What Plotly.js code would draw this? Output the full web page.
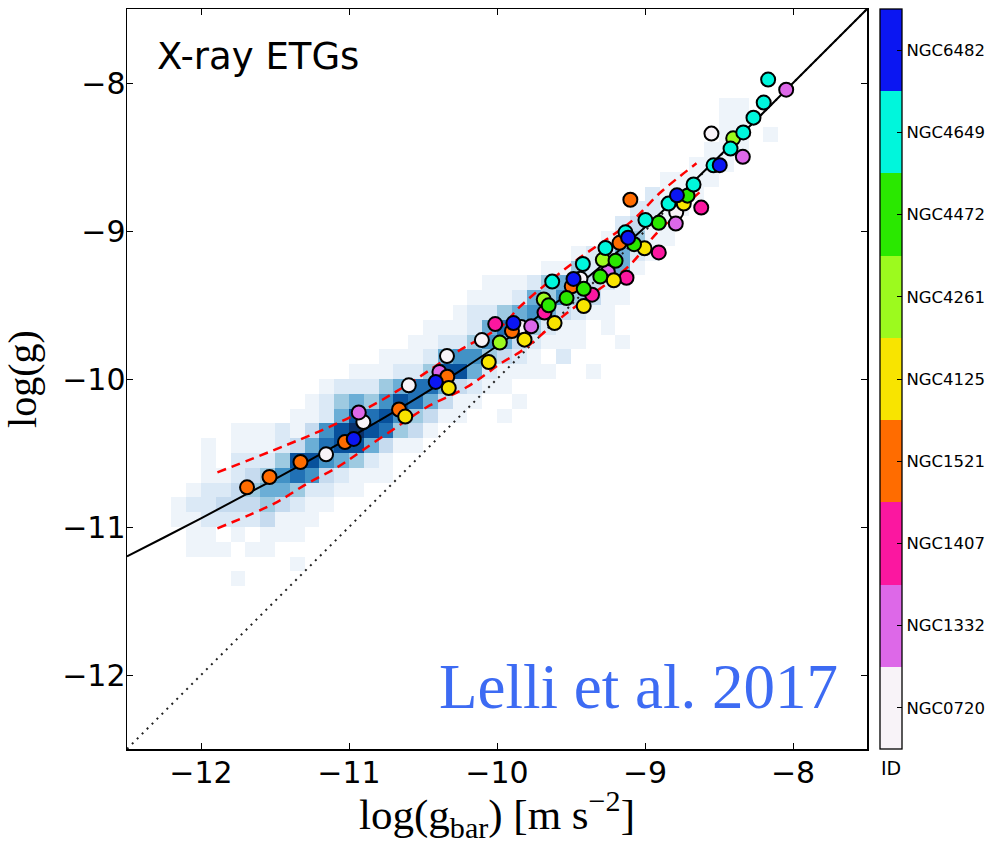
<!DOCTYPE html>
<html>
<head>
<meta charset="utf-8">
<script src="https://cdn.plot.ly/plotly-3.0.1.min.js"></script>
<style>html,body{margin:0;padding:0;background:#fff;}#chart{width:992px;height:845px;}</style>
</head>
<body>
<div id="chart"></div>
<script>
// ---- Galaxy IDs (colour bar categories, bottom to top) ----
const galaxyNames = ['NGC0720','NGC1332','NGC1407','NGC1521','NGC4125','NGC4261','NGC4472','NGC4649','NGC6482'];
const galaxyColors = ['#f8f3f8','#dd68e8','#fb17a0','#ff6c00','#f8e400','#9cfa1e','#2ae800','#00f6dc','#0b16f2'];

// ---- X-ray ETG points: log(gbar), log(g) per galaxy ----
const gbarNGC0720 = [-11.155,-10.903,-10.596,-10.338,-10.102,-9.836,-9.436,-8.789,-8.551];
const gobsNGC0720 = [-10.509,-10.291,-10.043,-9.845,-9.737,-9.649,-9.323,-8.874,-8.342];
const gbarNGC1332 = [-10.934,-10.389,-9.769,-9.251,-8.792,-8.339,-8.046];
const gobsNGC1332 = [-10.226,-9.953,-9.644,-9.277,-8.950,-8.499,-8.045];
const gbarNGC1407 = [-10.012,-9.679,-9.358,-9.125,-8.907,-8.620];
const gobsNGC1407 = [-9.629,-9.551,-9.430,-9.316,-9.145,-8.842];
const gbarNGC1521 = [-11.689,-11.537,-11.328,-11.027,-10.662,-10.336,-9.899,-9.495,-9.172,-9.099];
const gobsNGC1521 = [-10.732,-10.662,-10.561,-10.426,-10.206,-9.985,-9.676,-9.374,-9.080,-8.789];
const gbarNGC4125 = [-10.620,-10.326,-10.056,-9.814,-9.611,-9.414,-9.211,-9.003,-8.738];
const gobsNGC4125 = [-10.254,-10.061,-9.885,-9.734,-9.622,-9.507,-9.333,-9.117,-8.815];
const gbarNGC4261 = [-9.981,-9.684,-9.285,-8.404];
const gobsNGC4261 = [-9.754,-9.463,-9.195,-8.374];
const gbarNGC4472 = [-9.651,-9.530,-9.414,-9.302,-9.199,-9.074,-8.907,-8.713];
const gobsNGC4472 = [-9.502,-9.453,-9.391,-9.308,-9.201,-9.089,-8.945,-8.761];
const gbarNGC4649 = [-9.627,-9.420,-9.267,-9.132,-8.997,-8.841,-8.672,-8.537,-8.422,-8.336,-8.267,-8.198,-8.168];
const gobsNGC4649 = [-9.342,-9.223,-9.115,-9.009,-8.926,-8.815,-8.686,-8.556,-8.443,-8.334,-8.234,-8.132,-7.977];
const gbarNGC6482 = [-10.968,-10.414,-9.889,-9.483,-9.114,-8.784,-8.495];
const gobsNGC6482 = [-10.405,-10.020,-9.622,-9.324,-9.045,-8.759,-8.555];

// ---- Radial acceleration relation (solid), 1:1 line (dotted), scatter band (dashed) ----
const rarX = [-12.5,-12.25,-12,-11.75,-11.5,-11.25,-11,-10.75,-10.5,-10.25,-10,-9.75,-9.5,-9.25,-9,-8.75,-8.5,-8.25,-8,-7.5];
const rarY = [-11.199,-11.071,-10.941,-10.809,-10.676,-10.539,-10.399,-10.254,-10.104,-9.945,-9.777,-9.598,-9.405,-9.197,-8.975,-8.741,-8.497,-8.250,-8.0,-7.5];
const unityX = [-12.5,-7.5];
const unityY = [-12.5,-7.5];
const bandUpX = [-11.889,-11.132,-10.861,-10.591,-10.253,-9.962,-9.848,-9.490,-9.084,-8.902,-8.652];
const bandUpY = [-10.631,-10.324,-10.189,-10.029,-9.806,-9.637,-9.514,-9.218,-8.928,-8.745,-8.543];
const bandLoX = [-11.889,-11.503,-11.280,-11.078,-10.909,-10.679,-10.476,-10.206,-9.962,-9.828,-9.530,-9.105,-8.922,-8.632];
const bandLoY = [-11.009,-10.840,-10.705,-10.596,-10.482,-10.326,-10.191,-10.056,-9.887,-9.806,-9.556,-9.232,-9.016,-8.739];

// ---- Background 2D histogram of late-type galaxies (0.1 dex bins) ----
// each row: centre of log(g) bin, centre of first log(gbar) bin, count level along the row
const histRowY = [-8.15,-8.25,-8.35,-8.45,-8.55,-8.65,-8.75,-8.85,-8.95,-9.05,-9.15,-9.25,-9.35,-9.45,-9.55,-9.65,-9.75,-9.85,-9.95,-10.05,-10.15,-10.25,-10.35,-10.45,-10.55,-10.65,-10.75,-10.85,-10.95,-11.05,-11.15,-11.25,-11.35];
const histRowStartX = [-8.45,-8.45,-8.45,-8.55,-8.65,-8.85,-8.95,-9.05,-9.15,-9.25,-9.45,-9.65,-10.05,-10.15,-10.25,-10.45,-10.55,-10.75,-10.95,-11.15,-11.25,-11.35,-11.75,-11.95,-11.95,-11.95,-12.05,-12.15,-12.15,-12.05,-12.05,-11.35,-11.75];
const histRowCounts = [
  [1,1],
  [1,1],
  [1,1,0,1],
  [1,1,1],
  [1,1,1],
  [1,1,1,1],
  [2,1,1,1],
  [2,2,1,1],
  [2,3,1,1],
  [1,2,4,1,1],
  [1,2,3,5,2,1],
  [1,1,4,2,5,5,1],
  [1,1,1,2,4,5,5,3,2,1],
  [1,1,1,2,5,4,6,4,3,1,1],
  [1,2,2,4,5,6,5,3,2,1,1],
  [1,1,1,2,5,7,5,4,2,1,1,0,1],
  [1,1,2,2,4,6,5,3,2,1,1,1,0,0,1],
  [1,1,1,2,5,6,6,4,3,2,1,0,2],
  [1,1,1,2,2,4,8,8,5,2,1,1,1,1,0,0,1],
  [1,2,2,2,4,5,7,7,5,3,2,1,1],
  [1,2,4,5,4,6,8,7,5,3,1,1,0,0,1],
  [1,1,2,5,8,7,8,6,4,3,1,1,0,0,1],
  [1,1,1,2,1,3,6,8,9,8,7,4,3,1],
  [1,0,1,1,1,2,3,5,7,8,8,5,3,1,1],
  [1,0,2,2,2,4,8,8,6,5,4,2,1],
  [1,1,2,3,4,6,7,6,3,2,1,1,1],
  [1,2,2,3,4,5,5,4,2,2,1,1],
  [1,2,2,3,3,3,4,3,2,1,1],
  [1,1,2,2,2,2,3,1,1,1],
  [1,1,0,1,0,1,1,1],
  [1,1,1,0,1,1],
  [1],
  [1]
];
const histColors = ['#eef4fa','#dbe9f6','#c6dbef','#9ecae1','#6baed6','#4292c6','#2171b5','#08519c','#08306b'];

// ---- build heatmap grid ----
const binW = 0.1;
const gridX = [], gridY = [];
for (let k = 0; k < 50; k++) { gridX.push(-12.45 + binW * k); gridY.push(-12.45 + binW * k); }
const gridZ = gridY.map(() => gridX.map(() => null));
histRowY.forEach((yc, r) => {
  const row = Math.round((yc + 12.45) / binW);
  const c0 = Math.round((histRowStartX[r] + 12.45) / binW);
  histRowCounts[r].forEach((v, k) => { if (v > 0) gridZ[row][c0 + k] = v; });
});
const heatScale = histColors.map((c, k) => [k / (histColors.length - 1), c]);

// ---- points trace (draw order by galaxy) ----
const galaxyGbar = [gbarNGC0720,gbarNGC1332,gbarNGC1407,gbarNGC1521,gbarNGC4125,gbarNGC4261,gbarNGC4472,gbarNGC4649,gbarNGC6482];
const galaxyGobs = [gobsNGC0720,gobsNGC1332,gobsNGC1407,gobsNGC1521,gobsNGC4125,gobsNGC4261,gobsNGC4472,gobsNGC4649,gobsNGC6482];
const ptX = [], ptY = [], ptC = [], ptName = [];
galaxyGbar.forEach((arr, g) => arr.forEach((v, k) => { ptX.push(v); ptY.push(galaxyGobs[g][k]); ptC.push(g); ptName.push(galaxyNames[g]); }));
const n = galaxyNames.length;
const idScale = [];
galaxyColors.forEach((c, k) => { idScale.push([k / n, c]); idScale.push([(k + 1) / n, c]); });

const traces = [
  { type: 'heatmap', x: gridX, y: gridY, z: gridZ, zmin: 1, zmax: 9, colorscale: heatScale, showscale: false, hoverongaps: false, zsmooth: false },
  { type: 'scatter', mode: 'lines', x: unityX, y: unityY, line: { color: '#222', width: 2, dash: '2px,5px' }, hoverinfo: 'skip' },
  { type: 'scatter', mode: 'lines', x: rarX, y: rarY, line: { color: '#000', width: 2, shape: 'spline' }, hoverinfo: 'skip' },
  { type: 'scatter', mode: 'lines', x: bandUpX, y: bandUpY, line: { color: '#ff0000', width: 2.5, dash: '9px,6px', shape: 'spline' }, hoverinfo: 'skip' },
  { type: 'scatter', mode: 'lines', x: bandLoX, y: bandLoY, line: { color: '#ff0000', width: 2.5, dash: '9px,6px', shape: 'spline' }, hoverinfo: 'skip' },
  { type: 'scatter', mode: 'markers', x: ptX, y: ptY, text: ptName,
    marker: { size: 14, color: ptC, cmin: -0.5, cmax: n - 0.5, colorscale: idScale,
      line: { color: '#000', width: 2 },
      showscale: true,
      colorbar: { x: 1.0176, xanchor: 'left', xpad: 0, ypad: 0, y: 0.5, yanchor: 'middle', len: 1, lenmode: 'fraction',
        thickness: 22, thicknessmode: 'pixels', outlinecolor: '#000', outlinewidth: 1.3,
        tickvals: galaxyNames.map((_, k) => k), ticktext: galaxyNames, tickprefix: '\u2009\u2009', ticks: 'inside', ticklen: 5, tickcolor: '#000', tickwidth: 1,
        tickfont: { family: 'DejaVu Sans', size: 16.5, color: '#000' } } } }
];

const axisCommon = {
  range: [-12.5, -7.5], tickvals: [-12, -11, -10, -9, -8], ticks: 'inside', ticklen: 6, tickwidth: 1, tickcolor: '#000',
  showline: true, linecolor: '#000', linewidth: 1.5, mirror: 'ticks', showgrid: false, zeroline: false,
  tickfont: { family: 'DejaVu Sans', size: 30, color: '#000' }, fixedrange: true
};

const layout = {
  width: 992, height: 845,
  margin: { l: 127, r: 125, t: 9, b: 96, autoexpand: false },
  paper_bgcolor: '#fff', plot_bgcolor: '#fff', showlegend: false,
  xaxis: Object.assign({}, axisCommon, { ticklabelstandoff: -4,
    title: { text: 'log(g<sub>bar</sub>) [m s<sup>−2</sup>]', font: { family: 'Liberation Serif', size: 43, color: '#000' }, standoff: 4 } }),
  yaxis: Object.assign({}, axisCommon, { ticklabelstandoff: -6,
    title: { text: 'log(g)', font: { family: 'Liberation Serif', size: 40, color: '#000' }, standoff: 14 } }),
  annotations: [
    { text: 'X-ray ETGs', xref: 'paper', yref: 'paper', x: 0.0385, y: 0.9676, xanchor: 'left', yanchor: 'top', showarrow: false,
      font: { family: 'DejaVu Sans', size: 37, color: '#000' } },
    { text: 'Lelli et al. 2017', xref: 'paper', yref: 'paper', x: 0.9635, y: 0.034, xanchor: 'right', yanchor: 'bottom', showarrow: false,
      font: { family: 'Liberation Serif', size: 63, color: '#3d6bf3' } },
    { text: 'ID', xref: 'paper', yref: 'paper', x: 1.0324, y: -0.008, xanchor: 'center', yanchor: 'top', showarrow: false,
      font: { family: 'DejaVu Sans', size: 19, color: '#000' } }
  ]
};

Plotly.newPlot('chart', traces, layout, { displayModeBar: false, staticPlot: true });
</script>
</body>
</html>
